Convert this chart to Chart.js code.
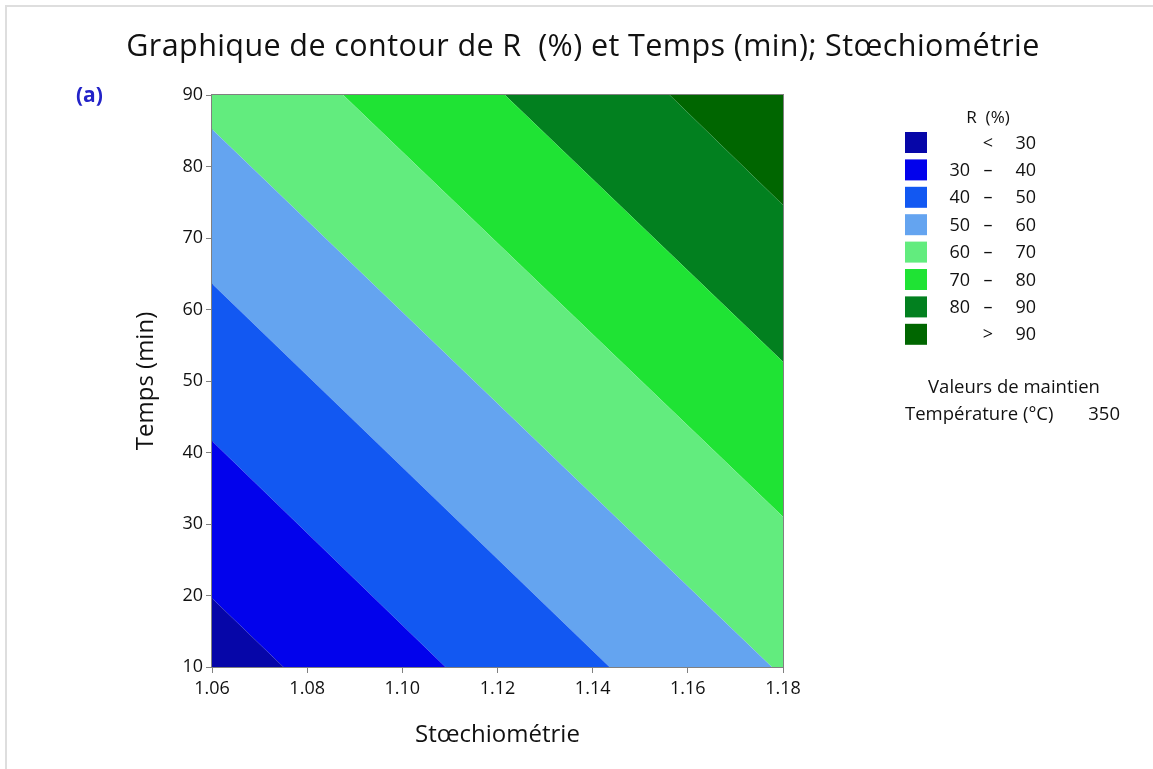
<!DOCTYPE html>
<html>
<head>
<meta charset="utf-8">
<script src="https://cdn.jsdelivr.net/npm/chart.js@4"></script>
<style>
  body { margin: 0; background: #fff; }
  #wrap { position: relative; width: 1153px; height: 769px; }
  #frame { position: absolute; left: 5px; top: 5px; right: 0; bottom: 0; border-left: 2px solid #dedede; border-top: 2px solid #dedede; pointer-events: none; }
  canvas { position: absolute; left: 0; top: 0; }
</style>
</head>
<body>
<div id="wrap">
  <canvas id="contourChart" width="1153" height="769"></canvas>
  <div id="frame"></div>
</div>
<script>
// Niveaux de contour de R (%)
const levels = [30, 40, 50, 60, 70, 80, 90];
// Temps (min) de chaque ligne de contour aux bords x = 1.06 et x = 1.18 (prolongé)
const stoechBounds = [1.06, 1.18];
const tempsAtLeft  = [19.6, 41.6, 63.6, 85.2, 107.6, 129.3, 152.2];
const tempsAtRight = [-57.2, -35.7, -13.4, 8.5, 31.0, 52.7, 74.6];
// Couleurs des bandes : < 30, 30-40, ..., > 90
const bandColors = ['#0606a8', '#0202ec', '#1258f2', '#64a4f0', '#62ec7e', '#1fe334', '#02801f', '#006600'];
const xTicks = [1.06, 1.08, 1.10, 1.12, 1.14, 1.16, 1.18];
const holdLabel = 'Température (°C)';
const holdValue = '350';

const FONT = "'Open Sans', 'Noto Sans', sans-serif";
const TEXT = '#111111';

// Une ligne par niveau, remplie jusqu'à la précédente
function buildDatasets() {
    const ds = levels.map((lvl, i) => ({
        label: 'R = ' + lvl,
        data: [
            { x: stoechBounds[0], y: tempsAtLeft[i] },
            { x: stoechBounds[1], y: tempsAtRight[i] }
        ],
        fill: i === 0 ? 'start' : '-1',
        backgroundColor: bandColors[i],
        borderColor: 'rgba(0,0,0,0)',
        borderWidth: 0,
        pointRadius: 0,
        tension: 0
    }));
    // Bande > 90 : copie de la dernière ligne, remplie jusqu'en haut
    const last = levels.length - 1;
    ds.push({
        label: 'R > ' + levels[last],
        data: [
            { x: stoechBounds[0], y: tempsAtLeft[last] },
            { x: stoechBounds[1], y: tempsAtRight[last] }
        ],
        fill: 'end',
        backgroundColor: bandColors[last + 1],
        borderColor: 'rgba(0,0,0,0)',
        borderWidth: 0,
        pointRadius: 0,
        tension: 0
    });
    return ds;
}

// Titre, "(a)", cadre du graphique et légende dessinés à la main
const decorPlugin = {
    id: 'decor',
    afterDraw(chart) {
        const ctx = chart.ctx;
        const a = chart.chartArea;
        ctx.save();

        // cadre autour de la zone de tracé
        ctx.strokeStyle = '#808080';
        ctx.lineWidth = 1;
        ctx.strokeRect(a.left - 0.5, a.top - 0.5, a.right - a.left + 1, a.bottom - a.top + 1);

        // titre
        ctx.fillStyle = TEXT;
        ctx.font = '30.5px ' + FONT;
        ctx.letterSpacing = '0.4px';
        ctx.textAlign = 'center';
        ctx.textBaseline = 'middle';
        ctx.fillText('Graphique de contour de R  (%) et Temps (min); Stœchiométrie', 583, 47);
        ctx.letterSpacing = '0px';

        // (a)
        ctx.fillStyle = '#2323c8';
        ctx.font = 'bold 21px ' + FONT;
        ctx.textAlign = 'left';
        ctx.fillText('(a)', 76, 96);

        // légende
        const boxX = 905, boxW = 22, boxH = 21, top0 = 132, step = 27.4;
        ctx.fillStyle = TEXT;
        ctx.font = '17px ' + FONT;
        ctx.textAlign = 'center';
        ctx.fillText('R  (%)', 988, 118);
        for (let i = 0; i < bandColors.length; i++) {
            const y = top0 + i * step;
            ctx.fillStyle = bandColors[i];
            ctx.fillRect(boxX, y, boxW, boxH);
            const cy = y + boxH / 2 + 1;
            ctx.fillStyle = TEXT;
            ctx.font = '18px ' + FONT;
            let lo = '', mid = '–', hi = '';
            if (i === 0) { mid = '<'; hi = String(levels[0]); }
            else if (i === bandColors.length - 1) { mid = '>'; hi = String(levels[levels.length - 1]); }
            else { lo = String(levels[i - 1]); hi = String(levels[i]); }
            ctx.textAlign = 'right';
            ctx.fillText(lo, 970, cy);
            ctx.textAlign = 'center';
            ctx.fillText(mid, 988, cy);
            ctx.textAlign = 'right';
            ctx.fillText(hi, 1036, cy);
        }

        ctx.font = '18.5px ' + FONT;
        ctx.textAlign = 'center';
        ctx.fillText('Valeurs de maintien', 1014, 388);
        ctx.textAlign = 'left';
        ctx.fillText(holdLabel, 905, 415);
        ctx.textAlign = 'right';
        ctx.fillText(holdValue, 1120, 415);
        ctx.restore();
    }
};

new Chart(document.getElementById('contourChart'), {
    type: 'line',
    data: { datasets: buildDatasets() },
    plugins: [decorPlugin],
    options: {
        responsive: false,
        devicePixelRatio: 1,
        animation: false,
        layout: { padding: { left: 138, right: 370, top: 95, bottom: 2 } },
        plugins: {
            legend: { display: false },
            tooltip: { enabled: false },
            title: { display: false },
            filler: { propagate: false }
        },
        scales: {
            x: {
                type: 'linear',
                min: xTicks[0],
                max: xTicks[xTicks.length - 1],
                afterBuildTicks: (scale) => { scale.ticks = xTicks.map(v => ({ value: v })); },
                afterFit: (scale) => { scale.height = 100; },
                ticks: {
                    callback: (v) => Number(v).toFixed(2),
                    font: { family: FONT, size: 18 },
                    color: TEXT,
                    padding: 5,
                    maxRotation: 0
                },
                grid: { drawOnChartArea: false, drawTicks: true, tickLength: 6, color: '#808080' },
                border: { color: '#808080', width: 1 },
                title: {
                    display: true,
                    text: 'Stœchiométrie',
                    font: { family: FONT, size: 24 },
                    color: TEXT,
                    padding: { top: 0, bottom: 17 }
                }
            },
            y: {
                type: 'linear',
                min: 10,
                max: 90,
                afterFit: (scale) => { scale.width = 74; },
                ticks: {
                    stepSize: 10,
                    font: { family: FONT, size: 18 },
                    color: TEXT,
                    padding: 3
                },
                grid: { drawOnChartArea: false, drawTicks: true, tickLength: 6, color: '#808080' },
                border: { color: '#808080', width: 1 },
                title: {
                    display: true,
                    text: 'Temps (min)',
                    font: { family: FONT, size: 24 },
                    color: TEXT,
                    padding: { top: -6, bottom: 0 }
                }
            }
        }
    }
});
</script>
</body>
</html>
